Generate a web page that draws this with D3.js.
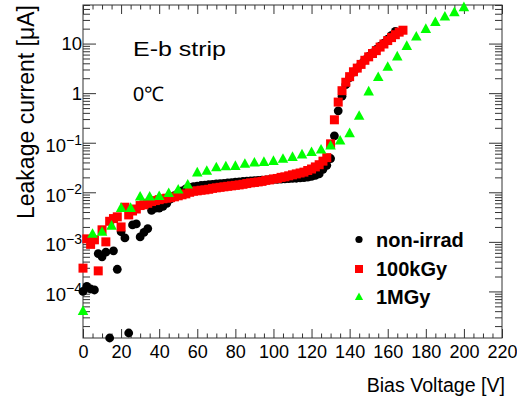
<!DOCTYPE html>
<html>
<head>
<meta charset="utf-8">
<script src="https://cdn.jsdelivr.net/npm/d3@7"></script>
<style>
  body { margin: 0; background: #fff; }
  svg { display: block; font-family: "Liberation Sans", Arial, sans-serif; }
</style>
</head>
<body>
<div class="chart-wrapper"></div>
<script>
// bias voltage [V] and leakage current [uA]
const biasNonIrrad = [0,2,4,6,8,10,12,14,16,18,20,22,24,26,28,30,32,34,36,38,40,42,44,46,48,50,52,54,56,58,
    60,62,64,66,68,70,72,74,76,78,80,82,84,86,88,90,92,94,96,98,100,102,104,106,108,110,112,114,116,118,
    120,122,124,126,128,130,132,134,136,138,140,142,144,146,148,150,152,154,156,158,160,162,164];
const currentNonIrrad = [1.0e-4, 1.26e-4, 1.12e-4, 1.07e-4, 5.8e-4, 5.0e-4, 6.2e-4, 1.15e-5, 6.6e-4, 2.8e-4,
    1.6e-3, 1.2e-3, 1.45e-5, 2.2e-3, 2.3e-3, 1.26e-3, 1.55e-3, 1.85e-3, 4.3e-3, 4.8e-3,
    4.8e-3, 5.2e-3, 6.0e-3, 7.4e-3, 8.6e-3, 9.6e-3, 1.07e-2, 1.17e-2, 1.25e-2, 1.3e-2,
    1.33e-2, 1.37e-2, 1.4e-2, 1.43e-2, 1.45e-2, 1.48e-2, 1.5e-2, 1.52e-2, 1.55e-2, 1.57e-2,
    1.6e-2, 1.62e-2, 1.65e-2, 1.67e-2, 1.7e-2, 1.72e-2, 1.74e-2, 1.76e-2, 1.78e-2, 1.80e-2,
    1.82e-2, 1.83e-2, 1.85e-2, 1.86e-2, 1.88e-2, 1.9e-2, 1.92e-2, 1.95e-2, 1.98e-2, 2.02e-2,
    2.1e-2, 2.2e-2, 2.35e-2, 2.9e-2, 3.5e-2, 4.8e-2, 0.138, 0.44, 0.87, 1.48,
    2.05, 2.65, 3.2, 3.9, 4.7, 5.5, 6.5, 7.6, 8.9, 10.2,
    12.3, 14.6, 17.6];

const bias100kGy = [0,2,4,6,8,10,12,14,16,18,20,22,24,26,28,30,32,34,36,38,40,42,44,46,48,50,52,54,56,58,
    60,62,64,66,68,70,72,74,76,78,80,82,84,86,88,90,92,94,96,98,100,102,104,106,108,110,112,114,116,118,
    120,122,124,126,128,130,132,134,136,138,140,142,144,146,148,150,152,154,156,158,160,162,164,166,168];
const current100kGy = [2.95e-4, 1.15e-3, 8.9e-4, 1.1e-3, 2.6e-4, 1.75e-3, 1.0e-3, 2.6e-3, 2.95e-3, 3.2e-3,
    2.0e-3, 5.0e-3, 3.5e-3, 4.2e-3, 4.6e-3, 5.4e-3, 5.6e-3, 6.0e-3, 6.5e-3, 6.8e-3,
    7.1e-3, 7.4e-3, 7.6e-3, 7.8e-3, 8.1e-3, 8.5e-3, 8.9e-3, 9.3e-3, 1.0e-2, 1.05e-2,
    1.07e-2, 1.1e-2, 1.12e-2, 1.15e-2, 1.2e-2, 1.23e-2, 1.26e-2, 1.29e-2, 1.32e-2, 1.35e-2,
    1.38e-2, 1.41e-2, 1.45e-2, 1.5e-2, 1.55e-2, 1.58e-2, 1.62e-2, 1.66e-2, 1.74e-2, 1.78e-2,
    1.86e-2, 1.9e-2, 2.0e-2, 2.05e-2, 2.15e-2, 2.25e-2, 2.35e-2, 2.45e-2, 2.55e-2, 2.75e-2,
    2.95e-2, 3.25e-2, 3.6e-2, 4.25e-2, 5.0e-2, 9.5e-2, 0.29, 0.66, 1.12, 1.66,
    2.15, 2.7, 3.2, 3.8, 4.6, 5.4, 6.3, 7.2, 8.5, 9.8,
    11.5, 13.2, 15.1, 17.0, 18.6];

const bias1MGy = [0,5,10,15,20,25,30,35,40,45,50,55,60,65,70,75,80,85,90,95,100,
    105,110,115,120,125,130,135,140,145,150,155,160,165,170,175,180,185,190,195,200];
const current1MGy = [4.1e-5, 1.48e-3, 1.62e-3, 2.15e-3, 4.9e-3, 4.9e-3, 8.3e-3, 8.3e-3, 8.5e-3, 9.8e-3,
    1.15e-2, 1.45e-2, 2.55e-2, 2.75e-2, 3.25e-2, 3.4e-2, 3.45e-2, 3.8e-2, 4.05e-2, 4.15e-2,
    4.35e-2, 4.8e-2, 5.25e-2, 5.9e-2, 6.6e-2, 7.4e-2, 8.9e-2, 0.112, 0.158, 0.355,
    1.1, 2.15, 3.45, 5.6, 9.1, 14.1, 20, 27.5, 35.5, 43.6,
    55];

const xMajorTicks = [0,20,40,60,80,100,120,140,160,180,200,220];
const xMinorTicks = [5,10,15,25,30,35,45,50,55,65,70,75,85,90,95,105,110,115,125,130,135,
    145,150,155,165,170,175,185,190,195,205,210,215];
const yDecades = [1e-4, 1e-3, 1e-2, 1e-1, 1, 10];
const yTickLabels = [["10","−4"], ["10","−3"], ["10","−2"], ["10","−1"], ["1",""], ["10",""]];

const seriesNames = ["non-irrad", "100kGy", "1MGy"];

// ---- layout
const width = 517, height = 399;
const margin = { top: 5, right: 15, bottom: 61, left: 83 };
const x0 = margin.left, x1 = width - margin.right;
const y0 = height - margin.bottom, y1 = margin.top;
const axisColor = "#333";

const svg = d3.select(".chart-wrapper")
    .append("svg")
    .attr("width", width)
    .attr("height", height);

const x = d3.scaleLinear().domain([0, 220]).range([x0, x1]);
const y = d3.scaleLog().domain([1.15e-5, 60]).range([y0, y1]);

const isDecade = v => Math.abs(Math.log10(v) - Math.round(Math.log10(v))) < 1e-6;
const yMinorTicks = y.ticks().filter(v => !isDecade(v));

// helper: draw an axis and strip its domain line
function drawAxis(axis, tx, ty) {
    const g = svg.append("g")
        .attr("transform", `translate(${tx},${ty})`)
        .call(axis);
    g.select(".domain").remove();
    g.selectAll("line").attr("stroke", axisColor);
    return g;
}

// x axes (bottom with labels, top ticks only)
drawAxis(d3.axisBottom(x).tickValues(xMinorTicks).tickSize(-4.5).tickFormat(""), 0, y0);
const xAxisG = drawAxis(d3.axisBottom(x).tickValues(xMajorTicks).tickSize(-9).tickPadding(7), 0, y0);
xAxisG.selectAll("text")
    .attr("fill", "#000")
    .style("font-size", "18px")
    .style("font-family", "'Liberation Sans', Arial, sans-serif");
drawAxis(d3.axisTop(x).tickValues(xMinorTicks).tickSize(-4.5).tickFormat(""), 0, y1);
drawAxis(d3.axisTop(x).tickValues(xMajorTicks).tickSize(-9).tickFormat(""), 0, y1);

// y axes (left and right, log ticks)
drawAxis(d3.axisLeft(y).tickValues(yMinorTicks).tickSize(-7).tickFormat(""), x0, 0);
drawAxis(d3.axisLeft(y).tickValues(yDecades).tickSize(-13).tickFormat(""), x0, 0);
drawAxis(d3.axisRight(y).tickValues(yMinorTicks).tickSize(-7).tickFormat(""), x1, 0);
drawAxis(d3.axisRight(y).tickValues(yDecades).tickSize(-13).tickFormat(""), x1, 0);

// y tick labels with superscript exponents
const yLab = svg.append("g")
    .selectAll("text")
    .data(yDecades)
    .enter()
    .append("text")
    .attr("x", x0 - 1)
    .attr("y", (d, i) => y(d) + (yTickLabels[i][1] ? 9.5 : 6.5))
    .attr("text-anchor", "end")
    .style("font-size", "18.5px");
yLab.append("tspan").text((d, i) => yTickLabels[i][0]);
yLab.filter((d, i) => yTickLabels[i][1] !== "")
    .append("tspan")
    .attr("dy", -7.5)
    .style("font-size", "14px")
    .text(d => yTickLabels[yDecades.indexOf(d)][1]);

// frame
svg.append("rect")
    .attr("x", x0).attr("y", y1)
    .attr("width", x1 - x0).attr("height", y0 - y1)
    .attr("fill", "none")
    .attr("stroke", axisColor)
    .attr("stroke-width", 1);

// markers
const triPath = s => `M${-s * 0.55},${s * 0.45}L${s * 0.55},${s * 0.45}L0,${-s * 0.55}Z`;

const nonIrrad = biasNonIrrad.map((v, i) => ({ v, c: currentNonIrrad[i] }));
const k100 = bias100kGy.map((v, i) => ({ v, c: current100kGy[i] }));
const m1 = bias1MGy.map((v, i) => ({ v, c: current1MGy[i] }));

svg.append("g").selectAll("circle")
    .data(nonIrrad)
    .enter()
    .append("circle")
    .attr("cx", d => x(d.v))
    .attr("cy", d => y(d.c))
    .attr("r", 4.4)
    .attr("fill", "#000");

svg.append("g").selectAll("rect")
    .data(k100)
    .enter()
    .append("rect")
    .attr("x", d => x(d.v) - 4.5)
    .attr("y", d => y(d.c) - 4.5)
    .attr("width", 9)
    .attr("height", 9)
    .attr("fill", "#ff0000");

svg.append("g").selectAll("path")
    .data(m1)
    .enter()
    .append("path")
    .attr("transform", d => `translate(${x(d.v)},${y(d.c)})`)
    .attr("d", triPath(9.6))
    .attr("fill", "#00ff00");

// legend
const legendX = 359, legendY = [239.5, 269, 296.5];
const legend = svg.append("g");
legend.append("circle").attr("cx", legendX).attr("cy", legendY[0]).attr("r", 3.6).attr("fill", "#000");
legend.append("rect").attr("x", legendX - 4).attr("y", legendY[1] - 4).attr("width", 8).attr("height", 8).attr("fill", "#ff0000");
legend.append("path").attr("transform", `translate(${legendX},${legendY[2]})`).attr("d", triPath(7.5)).attr("fill", "#00ff00");
legend.selectAll("text")
    .data(seriesNames)
    .enter()
    .append("text")
    .attr("x", 376)
    .attr("y", (d, i) => legendY[i] + 7)
    .style("font-size", "20px")
    .style("font-weight", "bold")
    .text(d => d);

// annotations
svg.append("text")
    .attr("x", 133).attr("y", 55.5)
    .style("font-size", "21px")
    .attr("textLength", 93)
    .attr("lengthAdjust", "spacingAndGlyphs")
    .text("E-b strip");
svg.append("text")
    .attr("x", 133).attr("y", 100.5)
    .style("font-size", "20px")
    .text("0℃");

// axis titles
svg.append("text")
    .attr("x", 505).attr("y", 391.5)
    .attr("text-anchor", "end")
    .style("font-size", "19.6px")
    .text("Bias Voltage [V]");
svg.append("text")
    .attr("transform", "rotate(-90)")
    .attr("x", -5).attr("y", 33.5)
    .attr("text-anchor", "end")
    .style("font-size", "23px")
    .text("Leakage current [μA]");
</script>
</body>
</html>
